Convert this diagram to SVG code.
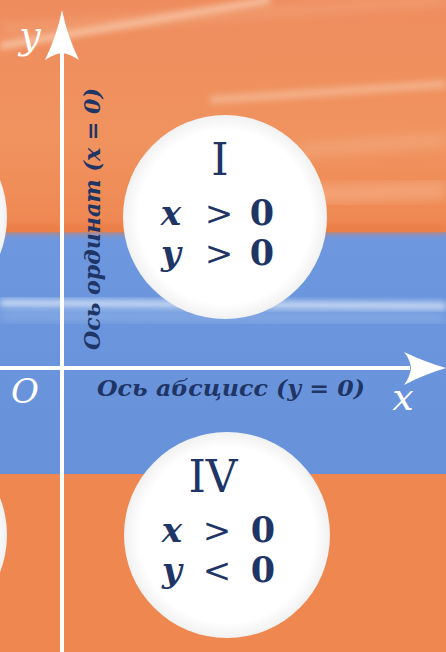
<svg xmlns="http://www.w3.org/2000/svg" width="446" height="652" viewBox="0 0 446 652">
<defs>
<style>
.math{font-family:"DejaVu Serif","Liberation Serif",serif;fill:#1e3566;}
.roman{font-family:"DejaVu Serif","Liberation Serif",serif;font-size:44px;fill:#1e3566;text-anchor:middle;}
.var{font-style:italic;font-weight:bold;font-size:34px;text-anchor:middle;}
.rel{font-size:34px;text-anchor:middle;}
.zero{font-weight:bold;font-size:35px;text-anchor:middle;}
.axlab{font-family:"DejaVu Serif","Liberation Serif",serif;font-style:italic;font-weight:bold;font-size:23px;fill:#1e3566;}
.wlab{font-family:"DejaVu Serif","Liberation Serif",serif;font-style:italic;fill:#ffffff;text-anchor:middle;}
.axis{stroke:#ffffff;stroke-width:4;fill:none;}
.head{fill:#ffffff;}
.disk{fill:url(#diskg);}
</style>
<linearGradient id="topg" x1="0" y1="0" x2="0" y2="1">
<stop offset="0" stop-color="#ee8c5e"/>
<stop offset="0.6" stop-color="#f0935f"/>
<stop offset="1" stop-color="#ef8752"/>
</linearGradient>
<linearGradient id="blueg" x1="0" y1="0" x2="0" y2="1">
<stop offset="0" stop-color="#6d98df"/>
<stop offset="1" stop-color="#6792da"/>
</linearGradient>
<radialGradient id="diskg" cx="0.5" cy="0.5" r="0.5">
<stop offset="0.85" stop-color="#ffffff"/>
<stop offset="1" stop-color="#f1f1f1"/>
</radialGradient>
<filter id="blur" x="-20%" y="-200%" width="140%" height="500%">
<feGaussianBlur stdDeviation="3"/>
</filter>
<filter id="blur2" x="-20%" y="-200%" width="140%" height="500%">
<feGaussianBlur stdDeviation="6"/>
</filter>
</defs>

<g id="background">
<rect x="0" y="0" width="446" height="232" fill="url(#topg)"/>
<rect x="0" y="232" width="446" height="242" fill="url(#blueg)"/>
<rect x="0" y="474" width="446" height="178" fill="#ef8850"/>
<rect x="0" y="225" width="446" height="8" fill="#ea7b45" filter="url(#blur)"/>
<path d="M0,46 L270,0" stroke="#f9cfb2" stroke-width="7" opacity="0.8" filter="url(#blur)"/>
<path d="M0,30 L446,0" stroke="#f6b58f" stroke-width="10" opacity="0.4" filter="url(#blur2)"/>
<path d="M210,100 L446,84" stroke="#f7bf9c" stroke-width="8" opacity="0.7" filter="url(#blur)"/>
<path d="M300,150 L446,140" stroke="#f5b08a" stroke-width="14" opacity="0.5" filter="url(#blur2)"/>
<path d="M300,195 L446,190" stroke="#f6b28c" stroke-width="18" opacity="0.6" filter="url(#blur2)"/>
<path d="M0,303 L446,306" stroke="#e4edfa" stroke-width="7" opacity="0.85" filter="url(#blur)"/>
<path d="M0,315 L446,318" stroke="#a9c4ee" stroke-width="10" opacity="0.5" filter="url(#blur2)"/>
</g>

<g id="quadrant-II">
<circle class="disk" cx="-96" cy="217" r="103"/>
</g>
<g id="quadrant-III">
<circle class="disk" cx="-96" cy="535" r="103"/>
</g>

<g id="quadrant-I">
<circle class="disk" cx="225" cy="217" r="102"/>
<text class="roman" x="220" y="175">I</text>
<text class="math var" x="171" y="225">x</text>
<text class="math rel" x="219" y="225">&gt;</text>
<text class="math zero" x="262" y="225">0</text>
<text class="math var" x="171" y="265">y</text>
<text class="math rel" x="219" y="265">&gt;</text>
<text class="math zero" x="262" y="265">0</text>
</g>

<g id="quadrant-IV">
<circle class="disk" cx="227" cy="535" r="103"/>
<text class="roman" x="213" y="492">IV</text>
<text class="math var" x="172" y="542">x</text>
<text class="math rel" x="217" y="542">&gt;</text>
<text class="math zero" x="263" y="542">0</text>
<text class="math var" x="172" y="582">y</text>
<text class="math rel" x="217" y="582">&lt;</text>
<text class="math zero" x="263" y="582">0</text>
</g>

<g id="connectors">
<line class="axis" x1="62" y1="50" x2="62" y2="652"/>
<path class="head" d="M62,10 Q67,35 79,60 Q70,54 62,53 Q54,54 45,60 Q57,35 62,10 Z"/>
<line class="axis" x1="0" y1="368" x2="410" y2="368"/>
<path class="head" d="M446,368 Q425,374 404,385 Q410,377 411,368 Q410,359 404,352 Q425,362 446,368 Z"/>
</g>

<g id="labels">
<text class="wlab" x="30" y="48" font-size="38">y</text>
<text class="wlab" x="25" y="403" font-size="34">O</text>
<text class="wlab" x="403" y="410" font-size="38">x</text>
<text class="axlab" x="97" y="396" textLength="268" lengthAdjust="spacingAndGlyphs">Ось абсцисс (y = 0)</text>
<text class="axlab" transform="translate(100,219) rotate(-90)" text-anchor="middle" textLength="262" lengthAdjust="spacingAndGlyphs">Ось ординат (x = 0)</text>
</g>
</svg>
